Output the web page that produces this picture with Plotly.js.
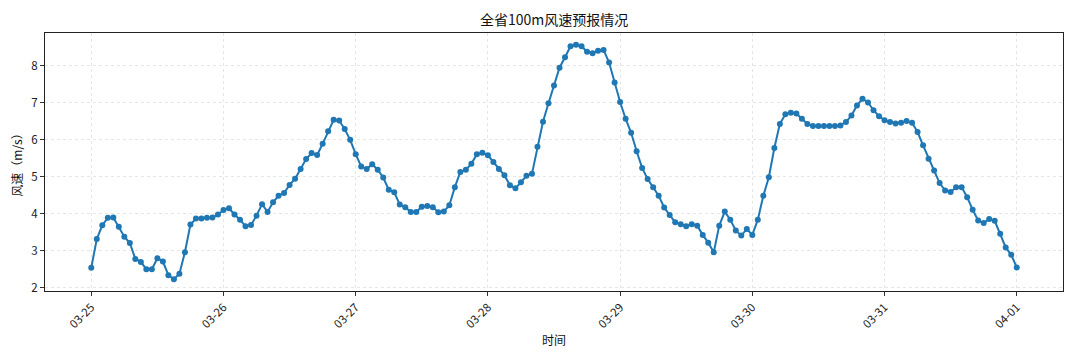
<!DOCTYPE html>
<html>
<head>
<meta charset="utf-8">
<script src="https://cdn.plot.ly/plotly-3.0.1.min.js"></script>
<style>html,body{margin:0;padding:0;background:#fff;}#chart{width:1080px;height:360px;}</style>
</head>
<body>
<div id="chart"></div>
<script>
// hourly forecast start
const startTime = "2025-03-25T00:00:00";
// wind speed at 100 m (m/s), hourly, 03-25 00:00 .. 04-01 00:00
const day0325 = [2.54, 3.32, 3.69, 3.89, 3.90, 3.65, 3.38, 3.21, 2.78, 2.70, 2.50, 2.50, 2.80, 2.71, 2.34, 2.23, 2.38, 2.96, 3.71, 3.87, 3.87, 3.89, 3.90, 3.98];
const day0326 = [4.10, 4.15, 3.98, 3.84, 3.66, 3.70, 3.95, 4.26, 4.05, 4.31, 4.49, 4.56, 4.78, 4.95, 5.21, 5.48, 5.64, 5.59, 5.89, 6.23, 6.54, 6.52, 6.29, 6.00];
const day0327 = [5.61, 5.28, 5.21, 5.34, 5.19, 4.98, 4.65, 4.58, 4.25, 4.18, 4.05, 4.05, 4.19, 4.21, 4.18, 4.04, 4.06, 4.23, 4.72, 5.13, 5.19, 5.35, 5.61, 5.65];
const day0328 = [5.58, 5.40, 5.21, 5.04, 4.77, 4.69, 4.85, 5.03, 5.08, 5.81, 6.49, 6.99, 7.47, 7.95, 8.23, 8.53, 8.57, 8.53, 8.38, 8.34, 8.41, 8.43, 8.09, 7.55];
const day0329 = [7.02, 6.57, 6.19, 5.69, 5.24, 4.94, 4.72, 4.49, 4.17, 3.97, 3.77, 3.72, 3.66, 3.72, 3.68, 3.43, 3.22, 2.96, 3.68, 4.06, 3.84, 3.55, 3.41, 3.59];
const day0330 = [3.43, 3.84, 4.49, 4.99, 5.78, 6.43, 6.69, 6.73, 6.71, 6.57, 6.43, 6.37, 6.37, 6.37, 6.37, 6.37, 6.39, 6.48, 6.66, 6.93, 7.11, 7.01, 6.80, 6.64];
const day0331 = [6.53, 6.48, 6.44, 6.46, 6.51, 6.46, 6.21, 5.85, 5.49, 5.17, 4.83, 4.63, 4.59, 4.72, 4.72, 4.45, 4.11, 3.82, 3.75, 3.86, 3.81, 3.46, 3.09, 2.89];
const day0401 = [2.55];
const yTicks = [2, 3, 4, 5, 6, 7, 8];
const xTickLabels = ["03-25", "03-26", "03-27", "03-28", "03-29", "03-30", "03-31", "04-01"];
const titleText = "全省100m风速预报情况";
const xTitle = "时间";
const yTitle = "风速（m/s）";

const speeds = [].concat(day0325, day0326, day0327, day0328, day0329, day0330, day0331, day0401);
const t0 = new Date(startTime + "Z").getTime();
const HOUR = 3600000;
function iso(ms) { return new Date(ms).toISOString().slice(0, 19).replace("T", " "); }
const times = speeds.map((_, i) => iso(t0 + i * HOUR));
const tickVals = xTickLabels.map((_, i) => iso(t0 + i * 24 * HOUR));

const span = (speeds.length - 1) * HOUR;
const xr = [iso(t0 - 0.05 * span), iso(t0 + 1.05 * span)];
const ymin = Math.min(...speeds), ymax = Math.max(...speeds);
const yr = [ymin - 0.05 * (ymax - ymin), ymax + 0.05 * (ymax - ymin)];

const font = "Noto Sans CJK SC, DejaVu Sans, sans-serif";
const gridCol = "rgba(205,205,205,0.5)";
const trace = {
  x: times, y: speeds, type: "scatter", mode: "lines+markers",
  line: {color: "#1f77b4", width: 2},
  marker: {color: "#1f77b4", size: 6},
  hoverinfo: "x+y"
};
const layout = {
  width: 1080, height: 360,
  margin: {l: 45, r: 17, t: 33, b: 69},
  paper_bgcolor: "#fff", plot_bgcolor: "#fff",
  showlegend: false,
  font: {family: font, size: 11, color: "#222"},
  title: {text: titleText, font: {family: font, size: 14, color: "#111"}, x: 0.513, xanchor: "center", y: 1 - 20 / 360, yanchor: "middle", yref: "container"},
  xaxis: {
    type: "date", range: xr,
    tickvals: tickVals, ticktext: xTickLabels, tickangle: -45,
    ticks: "outside", ticklen: 4, tickcolor: "#333",
    showline: true, linecolor: "#222", linewidth: 1, mirror: true,
    showgrid: true, gridcolor: gridCol, griddash: "3px,3px", gridwidth: 1,
    zeroline: false,
    tickfont: {family: font, size: 11.5, color: "#222"},
    title: {text: xTitle, font: {family: font, size: 12, color: "#111"}, standoff: 6}
  },
  yaxis: {
    range: yr, tickvals: yTicks,
    ticks: "outside", ticklen: 4, tickcolor: "#333",
    showline: true, linecolor: "#222", linewidth: 1, mirror: true,
    showgrid: true, gridcolor: gridCol, griddash: "3px,3px", gridwidth: 1,
    zeroline: false,
    tickfont: {family: font, size: 11.5, color: "#222"},
    title: {text: yTitle, font: {family: font, size: 12, color: "#111"}, standoff: 6}
  }
};
Plotly.newPlot("chart", [trace], layout, {staticPlot: true, displayModeBar: false});
</script>
</body>
</html>
